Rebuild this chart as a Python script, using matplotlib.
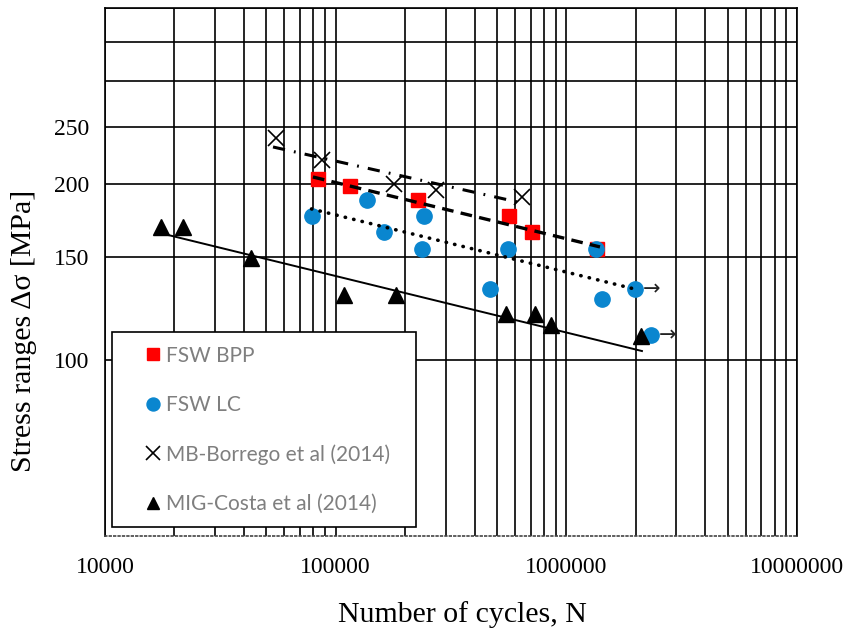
import matplotlib
matplotlib.use("Agg")
import matplotlib.pyplot as plt
from matplotlib.ticker import NullLocator, NullFormatter

plt.rcParams['font.family'] = ['Liberation Serif', 'DejaVu Serif']

# FSW BPP (red squares)
bpp_n = [83800, 115300, 227300, 563900, 709300, 1357000]
bpp_s = [204, 198.5, 187.8, 176.3, 165.6, 154.8]

# FSW LC (blue circles)
lc_n = [78600, 136700, 161900, 241300, 236600, 466500, 558200, 1344000, 1427000, 1983000, 2326000]
lc_s = [176.3, 187.8, 165.6, 176.3, 154.8, 132.3, 154.8, 154.8, 127.2, 132.3, 110.4]

# MB-Borrego et al (2014)
mb_n = [55100, 87200, 178900, 272200, 642000]
mb_s = [239.8, 219.8, 200, 195.3, 190]

# MIG-Costa et al (2014)
mig_n = [17500, 21800, 42900, 108600, 182500, 547300, 730900, 857600, 2106000]
mig_s = [168.9, 168.9, 149.4, 129.2, 129.2, 119.9, 119.9, 114.8, 109.9]

# trend lines (end points)
bpp_fit_n = [79700, 1399000]
bpp_fit_s = [205.6, 156.1]
lc_fit_n = [78600, 2064000]
lc_fit_s = [181.3, 131.7]
mb_fit_n = [53500, 642000]
mb_fit_s = [231.4, 185.6]
mig_fit_n = [17310, 2127000]
mig_fit_s = [164.9, 103.6]

# run-outs (arrows)
runout_n = [1983000, 2326000]
runout_s = [132.3, 110.4]

x_ticks = [1e4, 1e5, 1e6, 1e7]
x_labels = ['10000', '100000', '1000000', '10000000']
y_ticks = [100, 150, 200, 250, 300, 350, 400]
y_labels = ['100', '150', '200', '250', '', '', '']

red = '#FF0000'
blue = '#0A86CF'

fig = plt.figure(figsize=(8.5, 6.35), dpi=100)
ax = fig.add_axes([105/850, 1-536/635, (797-105)/850, (536-8)/635])

ax.set_xscale('log')
ax.set_yscale('log')
ax.set_xlim(1e4, 1e7)
ax.set_ylim(50, 400)

ax.set_xticks(x_ticks, labels=x_labels)
ax.xaxis.set_minor_formatter(NullFormatter())
ax.set_yticks(y_ticks, labels=y_labels)
ax.yaxis.set_minor_locator(NullLocator())
ax.yaxis.set_minor_formatter(NullFormatter())
ax.tick_params(axis='x', which='both', length=0, pad=15, labelsize=17)
ax.tick_params(axis='y', which='both', length=0, pad=11, labelsize=17)

ax.grid(True, which='both', axis='x', color='black', lw=1.2)
ax.grid(True, which='major', axis='y', color='black', lw=1.2)
ax.set_axisbelow(True)
for s in ax.spines.values():
    s.set_color('black')
    s.set_linewidth(1.2)
ax.spines['bottom'].set_linestyle(':')
ax.spines['bottom'].set_color('#444444')

ax.plot(bpp_n, bpp_s, 's', color=red, ms=10, label='FSW BPP', zorder=3)
ax.plot(lc_n, lc_s, 'o', color=blue, ms=11, label='FSW LC', zorder=3)
ax.plot(mb_n, mb_s, 'x', color='black', ms=12, mew=1.2, label='MB-Borrego et al (2014)', zorder=3)
ax.plot(mig_n, mig_s, '^', color='black', ms=11, label='MIG-Costa et al (2014)', zorder=3)

ax.plot(bpp_fit_n, bpp_fit_s, color='black', lw=2.4, dashes=(3.5, 2.2), zorder=4)
ax.plot(lc_fit_n, lc_fit_s, color='black', lw=2.6, dashes=(0.1, 2.3),
        dash_capstyle='round', zorder=4)
ax.plot(mb_fit_n, mb_fit_s, color='black', lw=2.2, dashes=(4, 3, 0.6, 3), zorder=4)
ax.plot(mig_fit_n, mig_fit_s, color='black', lw=1.4, zorder=4)

for n, s in zip(runout_n, runout_s):
    ax.annotate('→', (n, s), xytext=(6, 0), textcoords='offset points',
                ha='left', va='center', fontsize=15, color='#222222',
                family=['DejaVu Sans'])

leg = ax.legend(loc='upper left', bbox_to_anchor=(0.0101, 0.386, 0.439, 0.0),
                mode='expand', frameon=True, fancybox=False, framealpha=1,
                borderaxespad=0, prop={'family': 'Lato', 'size': 15},
                labelcolor='#7F7F7F', handlelength=2.65, handletextpad=-0.69,
                labelspacing=1.4, borderpad=0.65, numpoints=1, markerscale=0.85)
leg.get_frame().set_edgecolor('black')
leg.get_frame().set_linewidth(1.2)
leg.set_zorder(5)

fig.text(462/850, 1-615/635, 'Number of cycles, N', fontsize=21.5,
         ha='center', va='center')
fig.text(24/850, 1-331/635, 'Stress ranges Δσ [MPa]', fontsize=21.5,
         ha='center', va='center', rotation=90)

fig.savefig('out.png', dpi=100)
